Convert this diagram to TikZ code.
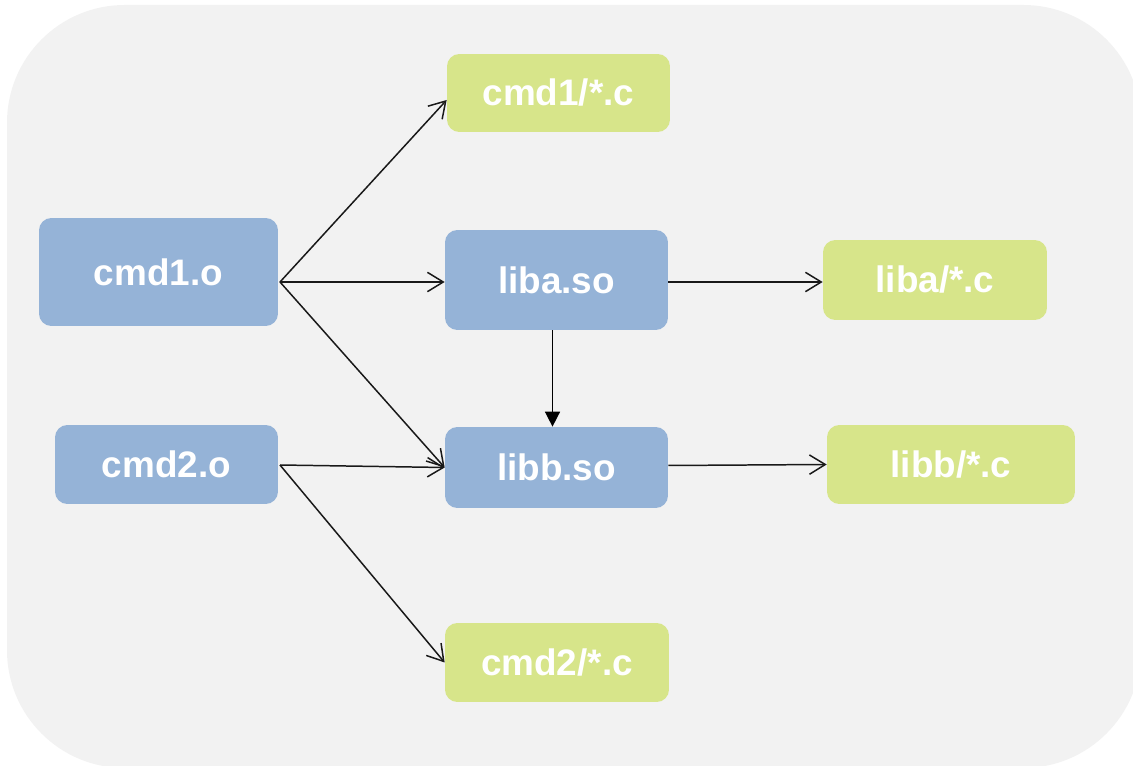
\documentclass[tikz,border=0pt]{standalone}
\usepackage{fontspec}
\setmainfont{Liberation Sans}
\usepackage{tikz}
\usetikzlibrary{positioning, arrows.meta}

\definecolor{bggray}{RGB}{242,242,242}
\definecolor{objblue}{RGB}{149,179,215}
\definecolor{srcgreen}{RGB}{215,229,138}

\begin{document}
\begin{tikzpicture}[x=0.02cm, y=-0.02cm,
        box/.style={rectangle, rounded corners=7pt, inner sep=0pt, text=white,
            font=\bfseries\fontsize{21}{25}\selectfont},
        objbox/.style={box, fill=objblue},
        srcbox/.style={box, fill=srcgreen},
        dep/.style={draw=black!90, line width=0.85pt, -{Straight Barb[length=9pt,width=11pt]}},
        link/.style={draw=black, line width=0.85pt, -{Triangle[length=8.5pt,width=8.5pt]}}]
            \useasboundingbox (0,0) rectangle (1133,766);
            \fill[bggray, rounded corners=67pt] (7,5) rectangle (1141,768);

            % Object files - blue
            \node[objbox, minimum width=4.78cm, minimum height=2.16cm] (cmd1) at (158.5,272) {cmd1.o};
            \node[objbox, minimum width=4.46cm, minimum height=1.58cm] (cmd2) at (166.5,464.5) {cmd2.o};
            \node[objbox, minimum width=4.46cm, minimum height=2.0cm] (liba) at (556.5,280) {liba.so};
            \node[objbox, minimum width=4.46cm, minimum height=1.62cm] (libb) at (556.5,467.5) {libb.so};

            % Sources - green
            \node[srcbox, minimum width=4.46cm, minimum height=1.56cm] (cmd1src) at (558.5,93) {cmd1/*.c};
            \node[srcbox, minimum width=4.48cm, minimum height=1.58cm] (cmd2src) at (557,662.5) {cmd2/*.c};
            \node[srcbox, minimum width=4.48cm, minimum height=1.6cm] (libasrc) at (935,280) {liba/*.c};
            \node[srcbox, minimum width=4.96cm, minimum height=1.58cm] (libbsrc) at (951,464.5) {libb/*.c};

            % Exit points
            \coordinate (cmd1out) at (280,282);
            \coordinate (cmd2out) at (280,465);

            % Dependencies
            \draw[dep] (cmd1out) -- ([yshift=-7*0.02cm]cmd1src.west);
            \draw[dep] (cmd1out) -- ([yshift=-2*0.02cm]liba.west);
            \draw[dep] (cmd1out) -- (libb.west);
            \draw[dep] (cmd2out) -- (libb.west);
            \draw[dep] (cmd2out) -- (cmd2src.west);
            \draw[dep] ([yshift=-2*0.02cm]liba.east) -- ([yshift=-2*0.02cm]libasrc.west);
            \draw[dep] ([yshift=2*0.02cm]libb.east) -- (libbsrc.west);
            \draw[link] ([xshift=-4*0.02cm]liba.south) -- ([xshift=-4*0.02cm]libb.north);
        \end{tikzpicture}
\end{document}
